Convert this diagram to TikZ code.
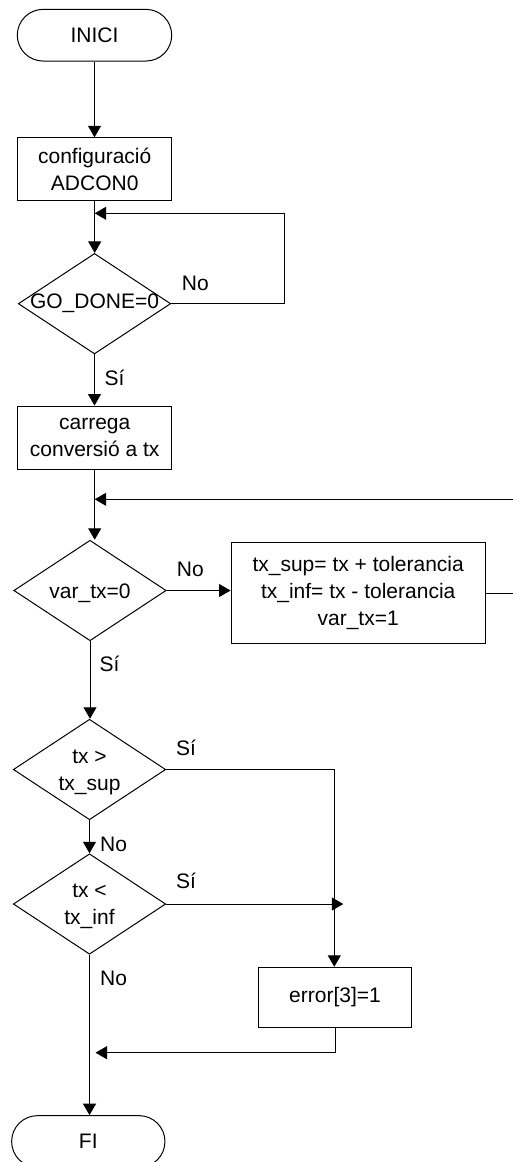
\documentclass[tikz,border=0pt]{standalone}
\usepackage{fontspec}
\setmainfont{Liberation Sans}
\usetikzlibrary{shapes.geometric,arrows.meta}
\begin{document}
\begin{tikzpicture}[x=1pt,y=-1pt,
  every node/.style={font=\fontsize{21}{27}\selectfont},
  line/.style={draw=black,line width=1pt},
  flow/.style={line,-{Triangle[length=11.5pt,width=13pt]}},
  term/.style={draw,line width=1pt,rectangle,rounded corners=25.8pt,
    minimum width=154.4pt,minimum height=51.7pt,inner sep=0pt},
  proc/.style={draw,line width=1pt,rectangle,inner sep=0pt,align=center},
  dec/.style={draw,line width=1pt,diamond,inner sep=0pt,
    minimum width=152.4pt,minimum height=100.5pt},
  txt/.style={align=center,inner sep=0pt},
  lbl/.style={inner sep=0pt,anchor=base west}]
\useasboundingbox (0,0) rectangle (513,1162);

% main column of steps
\node[term] (inici) at (94.5,35.2) {INICI};
\node[proc,minimum width=154pt,minimum height=63pt] (conf) at (94.7,169.3) {configuració\\ADCON0};
\node[dec] (godone) at (94.5,303.7) {};
\node[txt] (godonet) at (godone) {GO\_DONE=0};
\node[proc,minimum width=154pt,minimum height=63.3pt] (carrega) at (94.7,437.7) {carrega\\conversió a tx};
\node[dec] (vartx) at (90,590.5) {};
\node[txt] (vartxt) at (90,593) {var\_tx=0};
\node[proc,minimum width=254.3pt,minimum height=100.6pt] (upd) at (358.2,593)
  {tx\_sup= tx + tolerancia\\tx\_inf= tx - tolerancia\\var\_tx=1};
\node[dec] (txsup) at (89.5,769.5) {};
\node[txt] (txsupt) at (89.5,772) {tx >\\tx\_sup};
\node[dec] (txinf) at (89.5,904) {};
\node[txt] (txinft) at (89.5,906) {tx <\\tx\_inf};
\node[proc,minimum width=153.4pt,minimum height=60pt] (err) at (335,997.3) {error[3]=1};
\node[term,minimum width=153.3pt] (fi) at (88.3,1141.5) {FI};

% bend points of the connectors
\coordinate (loopA) at (284.3,213.3);
\coordinate (backR) at (525,499.3);
\coordinate (joinS) at (334.3,769.5);
\coordinate (hitS) at (343.3,904);
\coordinate (merge) at (95.5,1052.7);

% connectors
\draw[flow] (inici.south) -- (inici.south |- conf.north);
\draw[flow] (conf.south) -- (conf.south |- godone.north);
\draw[flow] (godone.east) -| (loopA) -- (loopA -| conf.south);
\draw[flow] (godone.south) -- (godone.south |- carrega.north);
\draw[flow] (carrega.south) -- (carrega.south |- vartx.north);
\draw[flow] (vartx.east) -- (vartx.east -| upd.west);
\draw[flow] (upd.east) -- (upd.east -| backR) -- (backR) -- (backR -| carrega.south);
\draw[flow] (vartx.south) -- (vartx.south |- txsup.north);
\draw[flow] (txsup.east) -- (joinS) -- (joinS |- err.north);
\draw[flow] (txsup.south) -- (txsup.south |- txinf.north);
\draw[flow] (txinf.east) -- (txinf.east -| hitS);
\draw[flow] (txinf.south) -- (txinf.south |- fi.north);
\draw[flow] (err.south) |- (merge);

% branch labels
\node[lbl] (n1) at (181.7,290) {No};
\node[lbl] (s1) at (104.3,385) {Sí};
\node[lbl] (n2) at (176.7,576) {No};
\node[lbl] (s2) at (99.3,671.7) {Sí};
\node[lbl] (s3) at (176,755) {Sí};
\node[lbl] (n3) at (100,851) {No};
\node[lbl] (s4) at (176,888.7) {Sí};
\node[lbl] (n4) at (100,985) {No};
\end{tikzpicture}
\end{document}
